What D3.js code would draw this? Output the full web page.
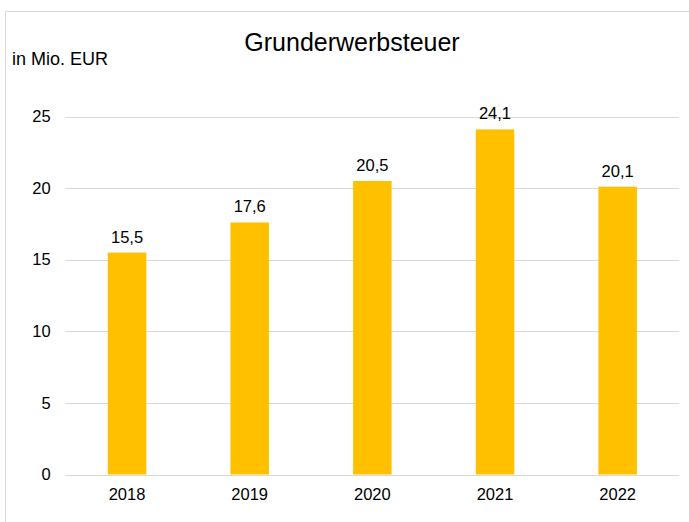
<!DOCTYPE html>
<html lang="de">
<head>
    <meta charset="UTF-8">
    <title>Grunderwerbsteuer</title>
    <script src="https://d3js.org/d3.v7.min.js"></script>
    <style>
        body { margin: 0; background: #fff; }
        text { font-family: "Liberation Sans", Arial, sans-serif; fill: #000; }
    </style>
</head>
<body>
    <div id="chart"></div>

    <script>
        // data
        const years = ["2018", "2019", "2020", "2021", "2022"];
        const values = [15.5, 17.6, 20.5, 24.1, 20.1];
        const yTicks = [0, 5, 10, 15, 20, 25];

        const width = 689, height = 522;
        const plot = { left: 65.7, right: 679, top: 116.5, bottom: 474.5 };

        const svg = d3.select("#chart")
            .append("svg")
            .attr("width", width)
            .attr("height", height);

        // chart frame
        svg.append("rect")
            .attr("x", 5.5).attr("y", 11.5)
            .attr("width", 700).attr("height", 540)
            .attr("fill", "none")
            .attr("stroke", "#d9d9d9");

        const x = d3.scaleBand().domain(years).range([plot.left, plot.right])
            .paddingInner(0.686).paddingOuter(0.343);
        const y = d3.scaleLinear().domain([0, 25]).range([plot.bottom, plot.top]);

        // gridlines
        svg.append("g")
            .selectAll("line")
            .data(yTicks)
            .enter()
            .append("line")
            .attr("x1", plot.left).attr("x2", plot.right)
            .attr("y1", d => Math.round(y(d)) + 0.5)
            .attr("y2", d => Math.round(y(d)) + 0.5)
            .attr("stroke", "#d9d9d9")
            .attr("stroke-width", 1);

        // y axis labels
        const yAxis = svg.append("g")
            .attr("transform", `translate(${plot.left - 15}, 0)`)
            .call(d3.axisLeft(y).tickValues(yTicks).tickSize(0).tickPadding(0));
        yAxis.select(".domain").remove();
        yAxis.selectAll("text").attr("font-size", "16.5px").attr("font-family", "Liberation Sans, Arial, sans-serif");

        // x axis labels
        const xAxis = svg.append("g")
            .attr("transform", `translate(0, ${plot.bottom + 14})`)
            .call(d3.axisBottom(x).tickSize(0).tickPadding(0));
        xAxis.select(".domain").remove();
        xAxis.selectAll("text").attr("font-size", "16.5px").attr("font-family", "Liberation Sans, Arial, sans-serif");

        // bars
        svg.selectAll(".bar")
            .data(years)
            .enter()
            .append("rect")
            .attr("class", "bar")
            .attr("x", (d, i) => x(d))
            .attr("y", (d, i) => y(values[i]))
            .attr("width", x.bandwidth())
            .attr("height", (d, i) => y(0) - y(values[i]))
            .attr("fill", "#ffc000");

        // data labels
        svg.selectAll(".lbl")
            .data(years)
            .enter()
            .append("text")
            .attr("class", "lbl")
            .attr("x", d => x(d) + x.bandwidth() / 2)
            .attr("y", (d, i) => y(values[i]) - 10)
            .attr("text-anchor", "middle")
            .attr("font-size", "16.5px")
            .text((d, i) => String(values[i]).replace(".", ","));

        // title and unit
        svg.append("text")
            .attr("x", 352).attr("y", 51)
            .attr("text-anchor", "middle")
            .attr("font-size", "25px")
            .text("Grunderwerbsteuer");

        svg.append("text")
            .attr("x", 12).attr("y", 65)
            .attr("font-size", "18px")
            .text("in Mio. EUR");
    </script>
</body>
</html>
